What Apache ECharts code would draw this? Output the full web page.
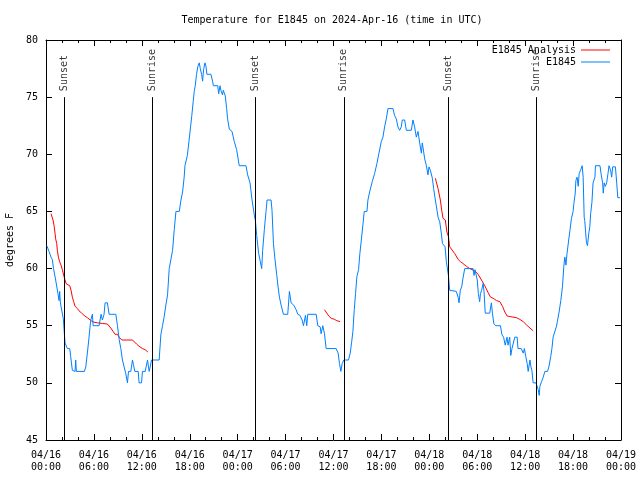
<!DOCTYPE html>
<html>
<head>
<meta charset="utf-8">
<script src="https://cdn.jsdelivr.net/npm/echarts@6/dist/echarts.min.js"></script>
<style>html,body{margin:0;padding:0;background:#fff;}#chart{width:640px;height:480px;}</style>
</head>
<body>
<div id="chart"></div>
<script>
// Hours since 2024-04-16 00:00 UTC
var tickLabels = ['04/16\n00:00','04/16\n06:00','04/16\n12:00','04/16\n18:00','04/17\n00:00','04/17\n06:00','04/17\n12:00','04/17\n18:00','04/18\n00:00','04/18\n06:00','04/18\n12:00','04/18\n18:00','04/19\n00:00'];

var blueHours = [0.1,0.38,0.63,0.79,0.94,1.21,1.5,1.63,1.71,1.8,2.05,2.17,2.3,2.38,2.68,2.97,3.09,3.3,3.43,3.64,3.72,3.8,4.14,4.81,4.98,5.18,5.39,5.6,5.81,5.9,6.65,6.77,6.9,7.06,7.27,7.4,7.69,7.9,8.74,8.95,9.16,9.37,9.57,9.78,9.99,10.2,10.33,10.62,10.83,10.95,11.12,11.54,11.66,11.96,12.08,12.42,12.71,12.92,13.05,13.21,14.17,14.38,14.59,14.8,15.01,15.22,15.43,15.64,15.85,16.06,16.27,16.69,16.9,17.1,17.3,17.4,17.6,17.7,17.9,18.1,18.26,18.43,18.56,18.69,18.85,19.02,19.19,19.32,19.48,19.61,19.73,19.9,20.03,20.15,20.65,20.86,20.95,21.5,21.62,21.79,21.9,22.1,22.2,22.45,22.62,22.74,22.95,23.29,23.58,23.87,24.2,25.04,25.25,25.55,25.8,26.08,26.22,26.38,26.63,26.84,27.01,27.13,27.34,27.55,27.68,28.18,28.3,28.48,28.68,28.9,29.06,29.23,29.44,29.73,30.27,30.48,30.69,31.02,31.32,31.53,31.8,32.07,32.24,32.49,32.65,32.78,33.83,34.03,34.33,34.45,34.66,34.87,35.08,36.33,36.58,36.75,36.92,37.09,37.3,37.88,38.09,38.26,38.43,38.6,38.76,38.93,39.14,39.3,39.47,39.68,39.85,40.19,40.31,40.52,40.85,41.14,41.44,41.69,41.98,42.19,42.4,42.61,42.82,43.44,43.65,43.86,44.07,44.28,44.49,44.61,44.91,45.12,45.74,45.95,46.16,46.37,46.58,46.79,47.0,47.12,47.29,47.42,47.63,47.83,47.96,48.13,48.38,48.54,48.75,48.96,49.09,49.3,49.5,49.64,49.8,49.97,50.13,50.26,50.39,50.55,51.38,51.6,51.72,51.88,52.05,52.2,52.43,53.47,53.6,53.72,53.89,54.0,54.14,54.3,54.4,54.55,54.73,54.85,55.0,55.56,55.77,55.9,56.07,56.3,56.9,57.1,57.3,57.5,57.73,57.85,58.06,58.2,58.35,58.48,58.7,59.0,59.1,59.5,59.76,59.9,60.08,60.25,60.38,60.6,60.72,60.84,61.0,61.34,61.5,61.63,61.76,61.84,62.05,62.26,62.47,62.8,62.97,63.2,63.35,63.5,63.7,63.9,64.04,64.25,64.46,64.67,64.84,64.96,65.03,65.1,65.24,65.45,65.62,65.8,66.0,66.1,66.27,66.35,66.5,66.64,66.76,66.93,67.14,67.26,67.39,67.46,67.67,67.8,67.97,68.1,68.2,68.36,68.5,68.74,68.8,69.37,69.5,69.7,69.78,69.9,70.04,70.2,70.37,70.5,70.7,70.83,70.96,71.1,71.3,71.46,71.6,71.87];
var blueTemps = [62,61.5,61,60.8,60,59,57.8,57.2,58,57,57,55.6,54.3,53.5,53,53,52.3,51.1,51,51,52,51,51,51,51.4,52.6,54,55.5,56,55,55,55.5,56,55.5,56,57,57,56,56,55,53.8,53,52,52,50.8,50,51,51,52,51.6,51,51,50,50,51,51,52,51,51.4,52,52,54.2,55,55.8,56.8,57.7,60,60,61.6,63.4,65,65,66,66.7,68,69,69,69.9,71.1,72.4,73.4,74.6,75.5,76,77,77.7,78,77.5,77,76.4,77.4,78,77.7,77,77,76.4,76,76,75.3,76,75.6,75.2,75.6,75.1,74,73.1,72.2,72,71.1,70.4,69,69,68.2,67.5,66,64.7,64.2,62.9,61.3,60.6,60,61.6,63.4,65,66,66,65.1,62.2,60.75,59.4,58.4,57.5,56.8,56,56,58,57,56.8,56.4,56,55.9,55.5,55,55.9,55,56,56,55,54.9,54.3,55,54.3,53,53,52.6,51.7,51,51.7,52,52,52.6,53.5,54.5,56.4,57.8,59.3,59.9,61.3,62.4,63.8,65,65,66,66.7,67.6,68.3,69.2,70.1,71.1,71.5,72.4,73.1,74,74,73.4,73.1,72.4,72.1,72.4,73,73,72.1,72.1,73,72.4,71.5,72,71,70.1,71,71.1,69.6,69,68.2,68.9,68.6,67.9,67,66,65.1,64.5,64.1,63.1,62.2,62.1,61.9,60.6,60.5,59.4,58.1,58,57.5,57,58.1,58.4,59.1,60,60,59.4,59.9,60,59,57.8,57.1,57.8,58.1,58.7,58,56.1,56.1,57,56.1,55.2,55,55,54.2,54,53.3,54,53.3,54,52.4,53,53,54,54,53,53,52.6,53,52.3,51.7,51,52,51.4,51.1,50,50,49.7,49.4,48.9,49.7,50.1,50.5,51,51,51.4,52.3,53,54,54,54.9,55.4,56.2,57.2,58.4,60.2,61,60.8,60.3,61.3,62.5,63.4,64.4,65,65.7,66.6,67.7,68,67.2,68.3,68.6,69,68,64.5,64.2,62.3,62,63.1,63.7,64.8,65.8,67.5,68,69,69,68.3,67.5,66.6,67.5,67.2,67.5,68.3,69,68.6,68,68.9,69,68.9,67.5,66.2,66.2];

var redHours = [0.63,0.79,0.88,1.0,1.13,1.21,1.34,1.42,1.55,1.71,1.88,2.05,2.22,2.38,2.55,2.8,2.97,3.14,3.3,3.47,3.64,3.93,4.14,4.47,4.77,5.18,5.39,5.73,6.02,6.44,7.06,7.69,7.9,8.11,8.4,8.65,8.95,9.16,9.49,9.78,10.83,11.04,11.33,11.66,12.08,12.42,12.75,
  20,
  34.87,35.16,35.41,35.71,36.12,36.41,36.83,
  42,
  48.75,49.09,49.38,49.55,49.71,50.0,50.2,50.39,50.55,50.8,51.2,51.6,51.9,52.2,52.64,53.06,53.69,54.1,54.53,54.94,55.36,55.66,55.99,56.41,56.83,57.16,57.45,57.75,58.08,58.92,59.34,59.76,60.2,60.6,61.0];
var redTemps = [64.8,64.8,64.25,63.8,63.1,62.6,62.2,61.6,61,60.6,60.3,59.9,59.4,59,58.65,58.5,58.5,58.1,57.5,57.1,56.7,56.5,56.3,56.1,55.9,55.7,55.6,55.4,55.3,55.25,55.2,55.15,55,54.8,54.5,54.25,54.25,54,53.75,53.75,53.75,53.6,53.4,53.2,53,52.9,52.7,
  null,
  56.4,56.1,55.85,55.65,55.56,55.44,55.36,
  null,
  67.9,67,66,65.1,64.4,64.25,63.2,62.8,61.9,61.8,61.3,60.8,60.6,60.45,60.2,60,59.8,59.5,59,58.5,57.9,57.5,57.4,57.2,57.1,56.7,56.2,55.85,55.8,55.7,55.55,55.35,55.05,54.8,54.55];

var sunHours = [2.3, 13.33, 26.25, 37.29, 50.34, 61.38];
var sunNames = ['Sunset','Sunrise','Sunset','Sunrise','Sunset','Sunrise'];
var sunLineBottom = 45, sunLineTop = 75;

var FONT = '"DejaVu Sans Mono", "Liberation Mono", monospace';

var blueData = blueHours.map(function (h, i) { return [h, blueTemps[i]]; });
var redData = redHours.map(function (h, i) { return [h, redTemps[i] == null ? '-' : redTemps[i]]; });
var sunPoints = sunHours.map(function (h, i) { return { name: sunNames[i], value: [h, sunLineTop] }; });
var sunLines = sunHours.map(function (h) { return [{ coord: [h, sunLineBottom] }, { coord: [h, sunLineTop] }]; });

var chart = echarts.init(document.getElementById('chart'), null, { renderer: 'canvas' });

var xCommon = {
  type: 'value', min: 0, max: 72, interval: 6,
  axisLine: { show: true, onZero: false, lineStyle: { color: '#000', width: 1 } },
  axisTick: { show: true, inside: true, length: 6, lineStyle: { color: '#000' } },
  minorTick: { show: true, splitNumber: 3, length: 3, lineStyle: { color: '#000' } },
  splitLine: { show: false }, minorSplitLine: { show: false }
};
var yCommon = {
  type: 'value', min: 45, max: 80, interval: 5,
  axisLine: { show: true, onZero: false, lineStyle: { color: '#000', width: 1 } },
  axisTick: { show: true, inside: true, length: 6, lineStyle: { color: '#000' } },
  splitLine: { show: false }
};

chart.setOption({
  animation: false,
  backgroundColor: '#fff',
  title: {
    text: 'Temperature for E1845 on 2024-Apr-16 (time in UTC)',
    left: 327, top: 10, textAlign: 'center',
    textStyle: { fontFamily: FONT, fontSize: 10, fontWeight: 'normal', color: '#000' }
  },
  grid: { left: 46, right: 19, top: 40, bottom: 40, containLabel: false, outerBoundsMode: 'none' },
  legend: [
    { data: ['E1845 Analysis'], right: 30, top: 45, padding: 0, align: 'right', icon: 'rect', itemWidth: 29, itemHeight: 1,
      textStyle: { fontFamily: FONT, fontSize: 10, color: '#000' } },
    { data: ['E1845'], right: 30, top: 57, padding: 0, align: 'right', icon: 'rect', itemWidth: 29, itemHeight: 1,
      textStyle: { fontFamily: FONT, fontSize: 10, color: '#000' } }
  ],
  xAxis: [
    Object.assign({}, xCommon, {
      position: 'bottom',
      axisLabel: { show: true, margin: 9, fontFamily: FONT, fontSize: 10, lineHeight: 12, color: '#000',
        formatter: function (v) { return tickLabels[Math.round(v / 6)]; } }
    }),
    Object.assign({}, xCommon, { position: 'top', axisLabel: { show: false } })
  ],
  yAxis: [
    Object.assign({}, yCommon, {
      position: 'left',
      name: 'degrees F', nameLocation: 'middle', nameRotate: 90, nameGap: 31,
      nameTextStyle: { fontFamily: FONT, fontSize: 10, color: '#000' },
      axisLabel: { show: true, margin: 8, fontFamily: FONT, fontSize: 10, color: '#000' }
    }),
    Object.assign({}, yCommon, { position: 'right', axisLabel: { show: false } })
  ],
  series: [
    {
      name: 'E1845 Analysis', type: 'line', data: redData, xAxisIndex: 0, yAxisIndex: 0,
      showSymbol: false, symbol: 'none', connectNulls: false,
      lineStyle: { color: '#ff0000', width: 1 }, itemStyle: { color: '#ff0000' }, silent: true
    },
    {
      name: 'E1845', type: 'line', data: blueData, xAxisIndex: 0, yAxisIndex: 0,
      showSymbol: false, symbol: 'none',
      lineStyle: { color: '#0080ff', width: 1 }, itemStyle: { color: '#0080ff' }, silent: true
    },
    {
      name: 'sun', type: 'scatter', data: sunPoints, symbolSize: 0, silent: true,
      label: { show: true, position: 'top', distance: 6, rotate: 90, align: 'left', verticalAlign: 'middle',
        formatter: '{b}', fontFamily: FONT, fontSize: 10, color: '#000' },
      markLine: { silent: true, symbol: ['none', 'none'], label: { show: false },
        lineStyle: { color: '#000', width: 1, type: 'solid' }, data: sunLines }
    }
  ]
});
</script>
</body>
</html>
